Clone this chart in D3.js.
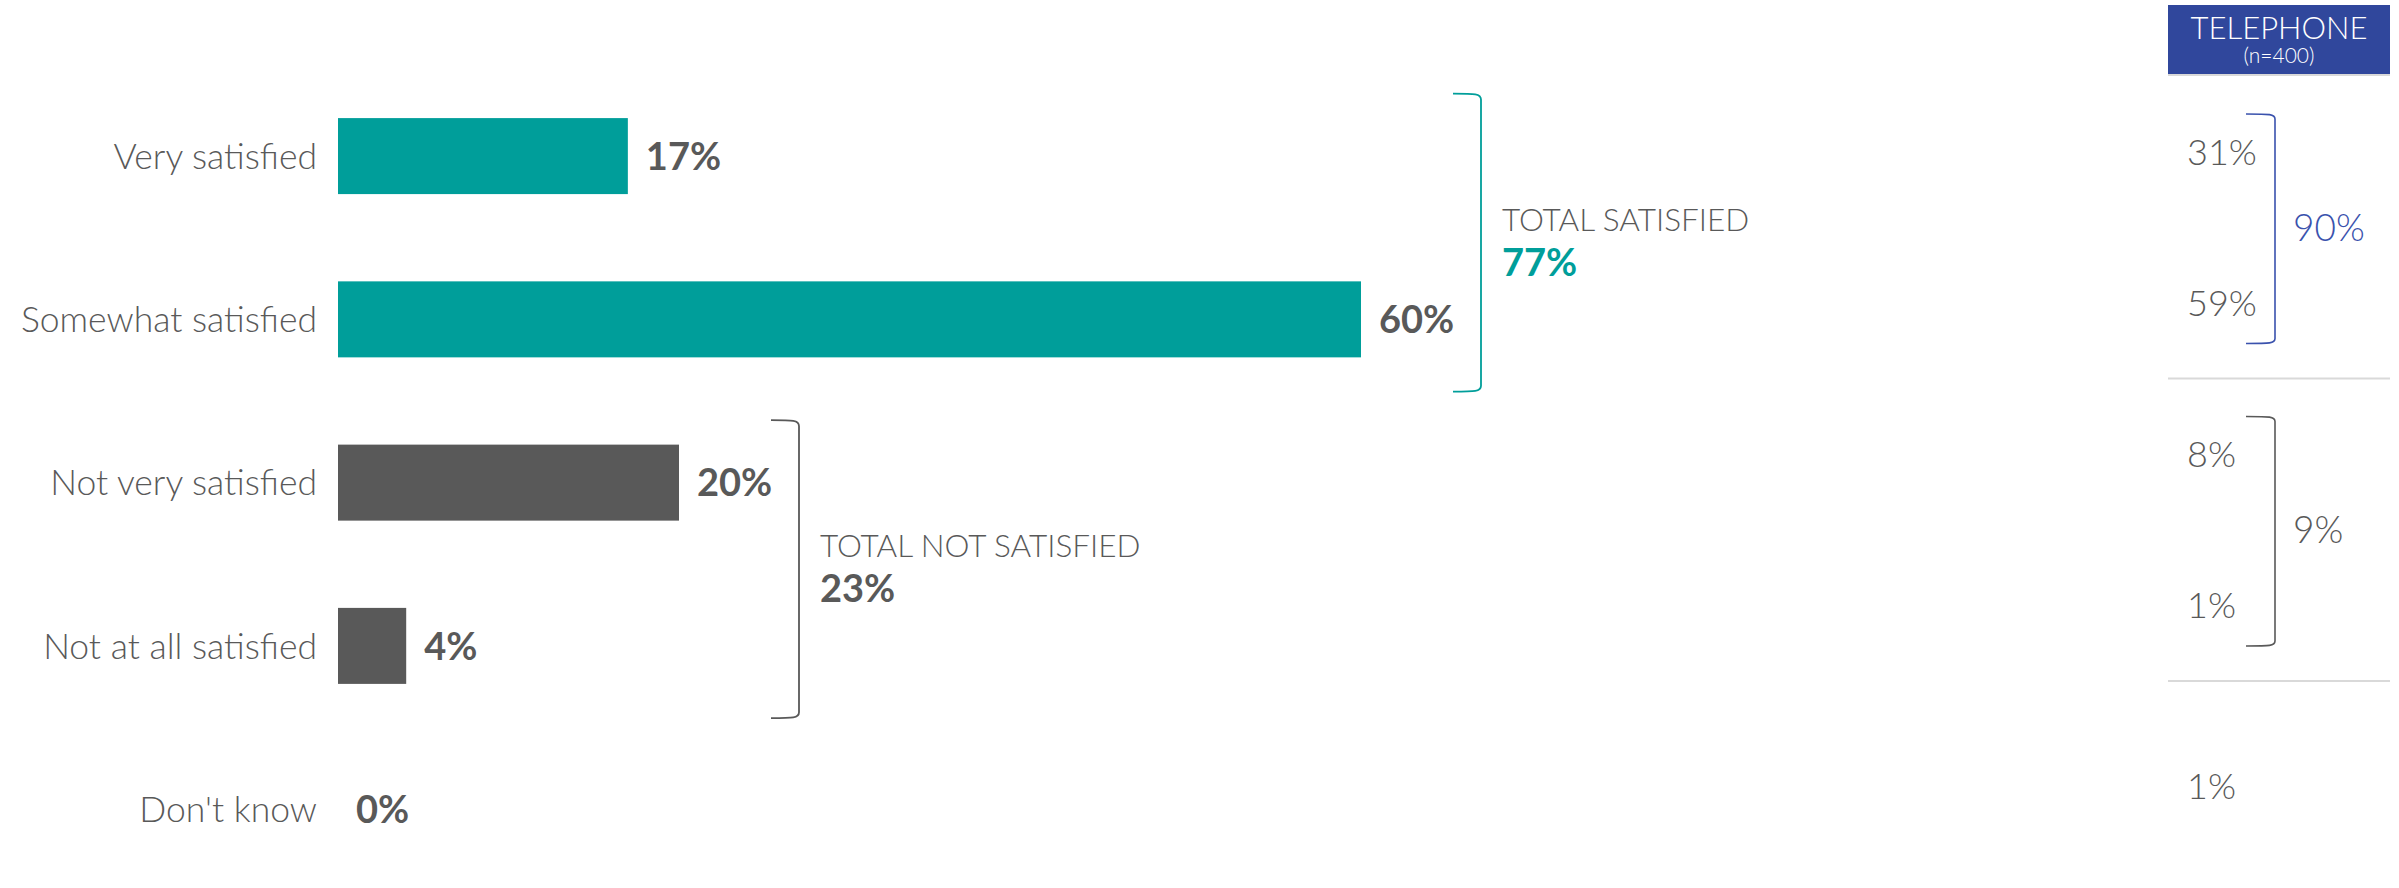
<!DOCTYPE html>
<html>
<head>
<meta charset="utf-8">
<script src="https://cdn.jsdelivr.net/npm/d3@7"></script>
<style>
  html, body { margin: 0; padding: 0; background: #ffffff; }
  svg { display: block; }
  text { font-family: Lato, "Open Sans", sans-serif; }
</style>
</head>
<body>
<svg id="chart" width="2399" height="888"></svg>
<script>
// Satisfaction responses (online sample, left) and telephone sample (right panel)
const categories = ["Very satisfied", "Somewhat satisfied", "Not very satisfied", "Not at all satisfied", "Don't know"];
const values = [17, 60, 20, 4, 0];
const groupOf = ["sat", "sat", "not", "not", "dk"];

const netKeys = ["sat", "not"];
const netLabels = ["TOTAL SATISFIED", "TOTAL NOT SATISFIED"];
const netValues = [77, 23];

const phoneHeader = "TELEPHONE";
const phoneBase = "(n=400)";
const phoneValues = [31, 59, 8, 1, 1];
const phoneNetValues = [90, 9];

const TEAL = "#009e9a";
const GREY = "#595959";
const BLUE = "#30479c";
const BLUE_LINE = "#3a52ad";

const svg = d3.select("#chart");
const pct = d => d + "%";

// ---- Left: horizontal bars ----
const x = d3.scaleLinear().domain([0, 100]).range([338, 2043]);
const y = d3.scaleBand().domain(categories).range([74.5, 890.75])
  .paddingInner(0.5345).paddingOuter(0.267);

const rows = categories.map((c, i) => ({ cat: c, value: values[i], group: groupOf[i] }));
const barColor = d => d.group === "sat" ? TEAL : GREY;

svg.append("g").selectAll("rect").data(rows).join("rect")
  .attr("x", x(0))
  .attr("y", d => y(d.cat))
  .attr("width", d => x(d.value) - x(0))
  .attr("height", y.bandwidth())
  .attr("fill", barColor);

// category labels
svg.append("g").selectAll("text").data(rows).join("text")
  .attr("x", x(0) - 21)
  .attr("y", d => y(d.cat) + y.bandwidth() / 2)
  .attr("dy", "0.36em")
  .attr("text-anchor", "end")
  .attr("font-size", 35.5)
  .attr("font-weight", 300)
  .attr("fill", GREY)
  .text(d => d.cat);

// value labels
svg.append("g").selectAll("text").data(rows).join("text")
  .attr("x", d => x(d.value) + 18)
  .attr("y", d => y(d.cat) + y.bandwidth() / 2)
  .attr("dy", "0.36em")
  .attr("font-size", 38)
  .attr("font-weight", 700)
  .attr("fill", GREY)
  .text(d => pct(d.value));

// bracket shape: horizontal arms joined by a vertical stroke with soft corners
function bracket(x0, x1, top, bot, r) {
  return `M${x0},${top} C${x1 - r},${top} ${x1},${top} ${x1},${top + r}` +
         ` V${bot - r} C${x1},${bot} ${x1 - r},${bot} ${x0},${bot}`;
}

// net brackets
netKeys.forEach((key, k) => {
  const members = rows.filter(r => r.group === key);
  const maxVal = d3.max(members, r => r.value);
  const vx = x(maxVal) + 120;
  const top = y(members[0].cat) - 0.15 * y.step();
  const bot = y(members[members.length - 1].cat) + y.bandwidth() + 0.21 * y.step();
  const col = key === "sat" ? TEAL : GREY;
  svg.append("path")
    .attr("d", bracket(vx - 28, vx, top, bot, 6))
    .attr("fill", "none")
    .attr("stroke", col)
    .attr("stroke-width", 1.8);
  const mid = (top + bot) / 2;
  svg.append("text")
    .attr("x", vx + 21)
    .attr("y", mid - 12)
    .attr("font-size", 31.5)
    .attr("font-weight", 300)
    .attr("fill", GREY)
    .text(netLabels[k]);
  svg.append("text")
    .attr("x", vx + 21)
    .attr("y", mid + 33)
    .attr("font-size", 38)
    .attr("font-weight", 700)
    .attr("fill", col)
    .text(pct(netValues[k]));
});

// ---- Right: telephone panel ----
const panel = { x0: 2168, x1: 2390, headTop: 5, headBot: 74, bottom: 888, sectionH: 302.5 };
const panelTop = panel.headBot + 2;

svg.append("rect")
  .attr("x", panel.x0).attr("y", panel.headTop)
  .attr("width", panel.x1 - panel.x0).attr("height", panel.headBot - panel.headTop)
  .attr("fill", BLUE);
svg.append("line")
  .attr("x1", panel.x0).attr("x2", panel.x1)
  .attr("y1", panel.headBot + 1).attr("y2", panel.headBot + 1)
  .attr("stroke", "#d9d9d9").attr("stroke-width", 2);

const cx = (panel.x0 + panel.x1) / 2;
svg.append("text")
  .attr("x", cx).attr("y", 39)
  .attr("text-anchor", "middle")
  .attr("font-size", 31).attr("font-weight", 300)
  .attr("fill", "#ffffff")
  .text(phoneHeader);
svg.append("text")
  .attr("x", cx).attr("y", 63)
  .attr("text-anchor", "middle")
  .attr("font-size", 21).attr("font-weight", 300)
  .attr("fill", "#ffffff")
  .text(phoneBase);

// sections: satisfied, not satisfied, don't know
const sectionKeys = ["sat", "not", "dk"];
const secTop = key => panelTop + sectionKeys.indexOf(key) * panel.sectionH;
const secBot = key => key === "dk" ? panel.bottom + 3 : secTop(key) + panel.sectionH;

// separators between sections
svg.append("g").selectAll("line").data(["not", "dk"]).join("line")
  .attr("x1", panel.x0).attr("x2", panel.x1)
  .attr("y1", d => secTop(d)).attr("y2", d => secTop(d))
  .attr("stroke", "#d9d9d9").attr("stroke-width", 2);

// row positions inside sections
const phoneRows = categories.map((c, i) => {
  const g = groupOf[i];
  const members = categories.filter((_, j) => groupOf[j] === g);
  const idx = members.indexOf(c);
  const t = secTop(g), b = secBot(g);
  const yy = t + (b - t) * (idx + 0.5) / members.length;
  return { cat: c, value: phoneValues[i], y: yy };
});

svg.append("g").selectAll("text").data(phoneRows).join("text")
  .attr("x", 2187)
  .attr("y", d => d.y)
  .attr("dy", "0.36em")
  .attr("font-size", 36)
  .attr("font-weight", 300)
  .attr("fill", GREY)
  .text(d => pct(d.value));

netKeys.forEach((key, k) => {
  const t = secTop(key), b = secBot(key);
  const col = key === "sat" ? BLUE_LINE : GREY;
  svg.append("path")
    .attr("d", bracket(2246, 2275, t + 38, b - 35, 5))
    .attr("fill", "none")
    .attr("stroke", col)
    .attr("stroke-width", 1.6);
  svg.append("text")
    .attr("x", 2293)
    .attr("y", (t + b) / 2)
    .attr("dy", "0.36em")
    .attr("font-size", 37)
    .attr("font-weight", 300)
    .attr("fill", key === "sat" ? BLUE_LINE : GREY)
    .text(pct(phoneNetValues[k]));
});
</script>
</body>
</html>
